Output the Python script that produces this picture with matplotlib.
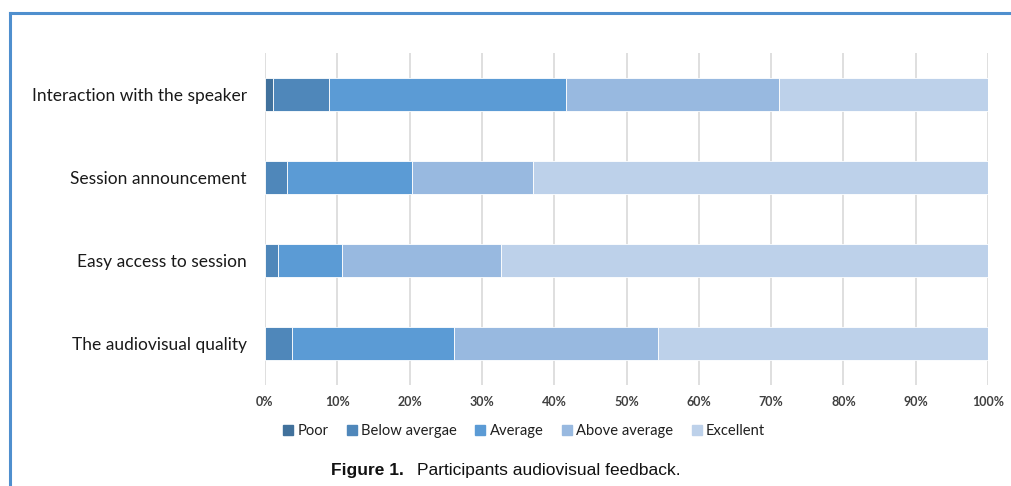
import matplotlib.pyplot as plt
import numpy as np
from matplotlib.lines import Line2D

categories = ["The audiovisual quality", "Easy access to session",
              "Session announcement", "Interaction with the speaker"]
levels = ["Poor", "Below avergae", "Average", "Above average", "Excellent"]

# percent of participants per rating, bottom row first
poor = [0.0, 0.0, 0.0, 1.1]
below = [3.8, 1.8, 3.1, 7.8]
average = [22.3, 8.9, 17.2, 32.7]
above = [28.3, 21.9, 16.8, 29.5]
excellent = [45.6, 67.4, 62.9, 28.9]

colors = ["#41719c", "#4f87ba", "#5b9bd5", "#98b9e0", "#bdd1ea"]
ticks = np.arange(0, 101, 10)

plt.rcParams["font.family"] = ["Lato", "DejaVu Sans"]

fig = plt.figure(figsize=(10.11, 4.86), dpi=100)
ax = fig.add_axes([0.2621, 0.2078, 0.7152, 0.6832])

y = np.arange(len(categories))
left = np.zeros(len(categories))
for name, vals, c in zip(levels, [poor, below, average, above, excellent], colors):
    ax.barh(y, vals, left=left, height=0.4, color=c, edgecolor="white",
            linewidth=0.6, label=name, zorder=3)
    left += np.array(vals)

ax.set_xlim(0, 100)
ax.set_ylim(-0.5, 3.5)
ax.set_xticks(ticks)
ax.set_xticklabels([f"{t}%" for t in ticks], fontsize=9, color="#404040",
                   fontweight="bold")
ax.set_yticks(y)
ax.set_yticklabels(categories, fontsize=12.5, color="#1a1a1a")
ax.tick_params(axis="x", length=0, pad=8)
ax.tick_params(axis="y", length=0, pad=13)
ax.grid(axis="x", color="#d9d9d9", linewidth=1.2, zorder=0)
for s in ax.spines.values():
    s.set_visible(False)

handles = [Line2D([], [], marker="s", linestyle="", markersize=7,
                  markerfacecolor=c, markeredgecolor=c) for c in colors]
fig.legend(handles, levels, loc="center", bbox_to_anchor=(0.518, 0.113),
           ncol=5, frameon=False, fontsize=10.6, handlelength=0.8,
           handletextpad=0.22, columnspacing=1.2, labelcolor="#1f1f1f")

fig.text(0.3275, 0.031, "Figure 1.", fontsize=12.5, fontweight="bold",
         family=["Liberation Sans", "DejaVu Sans"], color="#111111",
         va="center")
fig.text(0.4125, 0.031, "Participants audiovisual feedback.", fontsize=12.5,
         family=["Liberation Sans", "DejaVu Sans"], color="#111111",
         va="center")

# blue frame on the top and left
fig.add_artist(Line2D([0.0095, 1.0], [0.974, 0.974], color="#4f8fce",
                      linewidth=2.2, transform=fig.transFigure))
fig.add_artist(Line2D([0.0095, 0.0095], [0.974, 0.0], color="#4f8fce",
                      linewidth=2.2, transform=fig.transFigure))

fig.savefig("out.png", dpi=100)
